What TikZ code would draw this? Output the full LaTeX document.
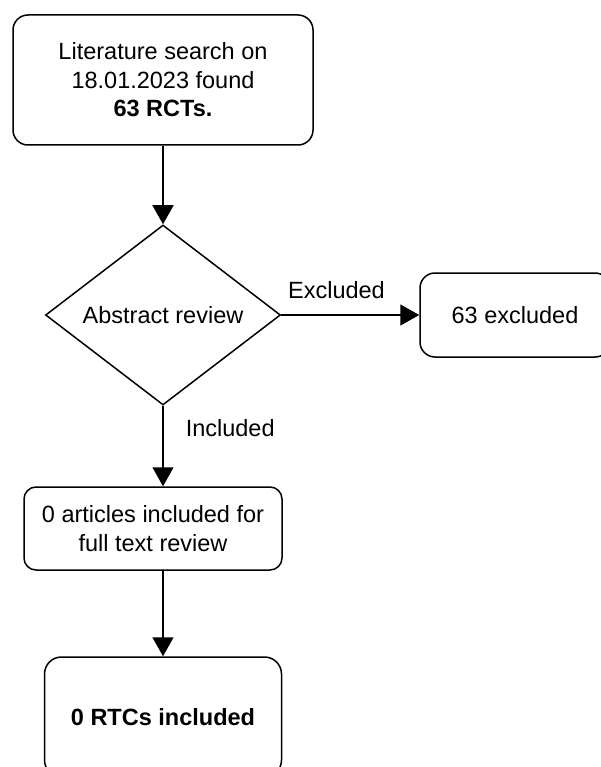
\documentclass[tikz,border=0pt]{standalone}
\usepackage{fontspec}
\setmainfont{Liberation Sans}
\usetikzlibrary{shapes.geometric,arrows.meta}

\begin{document}
\begin{tikzpicture}[x=1pt,y=-1pt,
    every node/.style={font=\fontsize{23.5}{28.5}\selectfont},
    box/.style={draw,line width=1.5pt,rounded corners=15pt,align=center,inner sep=0pt},
    decision/.style={draw,diamond,aspect=1.3,line width=1.5pt,inner sep=0pt,
      minimum width=235pt,minimum height=180pt},
    flow/.style={line width=1.5pt,-{Triangle[length=19pt,width=21pt]}},
    lbl/.style={inner sep=0pt}]

  \useasboundingbox (0,0) rectangle (601,767);
  \clip (0,0) rectangle (601,767);
  \fill[white] (0,0) rectangle (601,767);

  \node[box,minimum width=300pt,minimum height=130pt] (search) at (163,80)
    {Literature search on\\18.01.2023 found\\\textbf{63 RCTs.}};
  \node[decision] (abstract) at (163,315) {Abstract review};
  \node[box,minimum width=190pt,minimum height=84pt] (excluded) at (515,315) {63 excluded};
  \node[box,rounded corners=12pt,minimum width=258pt,minimum height=83pt] (fulltext) at (153,528.5)
    {0 articles included for\\full text review};
  \node[box,rounded corners=17pt,minimum width=237pt,minimum height=120pt] (included) at (163,717)
    {\textbf{0 RTCs included}};

  % connectors
  \draw[flow] (search.south) -- (abstract.north);
  \draw[flow] (abstract.east) -- node[lbl,pos=.4,above=16pt] {Excluded} (excluded.west);
  \draw[flow] (abstract.south) -- node[lbl,pos=.28,right=22pt] {Included} (abstract.south |- fulltext.north);
  \draw[flow] (abstract.south |- fulltext.south) -- (included.north);

\end{tikzpicture}
\end{document}
